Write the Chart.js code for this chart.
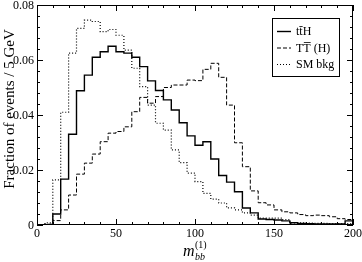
<!DOCTYPE html>
<html>
<head>
<meta charset="utf-8">
<script src="https://cdn.jsdelivr.net/npm/chart.js@4.4.0/dist/chart.umd.min.js"></script>
<style>
  html, body { margin: 0; padding: 0; background: #fff; }
  canvas { display: block; }
</style>
</head>
<body>
<canvas id="chart" width="362" height="262"></canvas>
<script>
// lower edge of each 5 GeV bin, last edge closes the histogram
const binLow = [
  0, 5, 10, 15, 20, 25, 30, 35, 40, 45,
  50, 55, 60, 65, 70, 75, 80, 85, 90, 95,
  100, 105, 110, 115, 120, 125, 130, 135, 140, 145,
  150, 155, 160, 165, 170, 175, 180, 185, 190, 195
];
const binEnd = 200;

const ttH = [
  0, 0, 0.004, 0.0167, 0.033, 0.0488, 0.0545, 0.061, 0.063, 0.065,
  0.063, 0.0625, 0.061, 0.0576, 0.0524, 0.0489, 0.0455, 0.0418, 0.0372, 0.0324,
  0.029, 0.0303, 0.024, 0.018, 0.0156, 0.0121, 0.0062, 0.0044, 0.0022, 0.002,
  0.0018, 0.0015, 0.0008, 0.0006, 0.0005, 0.0004, 0.0004, 0.0004, 0.0004, 0.0015
];

const heavyTT = [
  0, 0.0003, 0.0016, 0.0055, 0.0109, 0.0185, 0.0225, 0.0258, 0.0303, 0.0334,
  0.034, 0.0357, 0.0412, 0.0464, 0.0443, 0.0467, 0.05, 0.0509, 0.0509, 0.0527,
  0.0525, 0.0566, 0.0588, 0.0537, 0.0436, 0.0299, 0.0212, 0.0124, 0.0081, 0.0073,
  0.0055, 0.0048, 0.0044, 0.0038, 0.0034, 0.0036, 0.0034, 0.003, 0.0023, 0.002
];

const smBkg = [
  0, 0.0008, 0.0164, 0.041, 0.0625, 0.0715, 0.0745, 0.074, 0.0703, 0.0711,
  0.069, 0.0636, 0.057, 0.0503, 0.0436, 0.037, 0.0345, 0.0273, 0.0227, 0.0189,
  0.0158, 0.0115, 0.0094, 0.008, 0.0062, 0.0055, 0.0044, 0.0036, 0.0025, 0.0025,
  0.0025, 0.002, 0.0008, 0.0008, 0.0007, 0.0006, 0.0006, 0.0005, 0.0005, 0.0005
];

const xTicks = [0, 50, 100, 150, 200];
const xTickLabels = ["0", "50", "100", "150", "200"];
const yTicks = [0, 0.02, 0.04, 0.06, 0.08];
const yTickLabels = ["0", "0.02", "0.04", "0.06", "0.08"];

const SERIF = '"Liberation Serif", "Times New Roman", serif';

function toSteps(values) {
  const pts = values.map((v, i) => ({ x: binLow[i], y: v }));
  pts.push({ x: binEnd, y: values[values.length - 1] });
  return pts;
}

function line(ctx, x1, y1, x2, y2) {
  ctx.beginPath();
  ctx.moveTo(x1, y1);
  ctx.lineTo(x2, y2);
  ctx.stroke();
}

const framePlugin = {
  id: "frame",
  afterDraw(chart) {
    const { ctx, chartArea: a } = chart;
    const xs = chart.scales.x;
    const ys = chart.scales.y;
    ctx.save();
    ctx.strokeStyle = "#000";
    ctx.fillStyle = "#000";
    ctx.lineWidth = 1;
    ctx.setLineDash([]);
    ctx.strokeRect(a.left + 0.5, a.top + 0.5, a.right - a.left - 1, a.bottom - a.top - 1);

    // inward ticks on all four sides
    for (let v = 0; v <= 200; v += 10) {
      const px = Math.round(xs.getPixelForValue(v)) + 0.5;
      const len = v % 50 === 0 ? 6 : 3;
      line(ctx, px, a.bottom, px, a.bottom - len);
      line(ctx, px, a.top, px, a.top + len);
    }
    for (let i = 0; i <= 20; i++) {
      const py = Math.round(ys.getPixelForValue(i * 0.004)) + 0.5;
      const len = i % 5 === 0 ? 6 : 3;
      line(ctx, a.left, py, a.left + len, py);
      line(ctx, a.right, py, a.right - len, py);
    }

    ctx.font = "12px " + SERIF;
    ctx.textAlign = "center";
    ctx.textBaseline = "alphabetic";
    xTicks.forEach((v, i) => {
      ctx.fillText(xTickLabels[i], xs.getPixelForValue(v), 237);
    });
    ctx.textAlign = "right";
    ctx.textBaseline = "middle";
    yTicks.forEach((v, i) => {
      ctx.fillText(yTickLabels[i], a.left - 3, ys.getPixelForValue(v) + 0.5);
    });

    // y title
    ctx.save();
    ctx.translate(10, 109);
    ctx.rotate(-Math.PI / 2);
    ctx.textAlign = "center";
    ctx.font = "15px " + SERIF;
    ctx.fillText("Fraction of events / 5 GeV", 0, 0);
    ctx.restore();

    // x title m_bb^(1)
    ctx.textAlign = "left";
    ctx.textBaseline = "alphabetic";
    ctx.font = "italic 16px " + SERIF;
    ctx.fillText("m", 183, 256);
    ctx.font = "10px " + SERIF;
    ctx.fillText("(1)", 195, 248);
    ctx.font = "italic 10px " + SERIF;
    ctx.fillText("bb", 195, 260);

    drawLegend(ctx);
    ctx.restore();
  }
};

function drawLegend(ctx) {
  ctx.strokeStyle = "#000";
  ctx.lineWidth = 1;
  ctx.setLineDash([]);
  ctx.strokeRect(272.5, 18.5, 67, 58);

  const rows = [
    { y: 31, dash: [], width: 1.4 },
    { y: 47.5, dash: [4, 2], width: 1 },
    { y: 64, dash: [1, 2], width: 1.2 }
  ];
  rows.forEach((r) => {
    ctx.lineWidth = r.width;
    ctx.setLineDash(r.dash);
    line(ctx, 277, r.y + 0.5, 291, r.y + 0.5);
  });
  ctx.setLineDash([]);
  ctx.lineWidth = 0.8;

  ctx.font = "12px " + SERIF;
  ctx.textAlign = "left";
  ctx.textBaseline = "alphabetic";
  ctx.fillText("ttH", 296, 35);
  const tw = ctx.measureText("t").width;
  line(ctx, 296 + tw, 26.5, 296 + 2 * tw, 26.5);

  const Tw = ctx.measureText("T").width;
  ctx.fillText("TT (H)", 296, 51.5);
  line(ctx, 296 + Tw + 0.5, 42.5, 296 + 2 * Tw, 42.5);

  ctx.fillText("SM bkg", 296, 68);
}

const ctx = document.getElementById("chart").getContext("2d");

new Chart(ctx, {
  type: "line",
  data: {
    datasets: [
      {
        label: "ttH",
        data: toSteps(ttH),
        borderColor: "#000",
        borderWidth: 1.4,
        stepped: "before",
        pointRadius: 0,
        fill: false
      },
      {
        label: "TT (H)",
        data: toSteps(heavyTT),
        borderColor: "#000",
        borderWidth: 1,
        borderDash: [4, 2],
        stepped: "before",
        pointRadius: 0,
        fill: false
      },
      {
        label: "SM bkg",
        data: toSteps(smBkg),
        borderColor: "#000",
        borderWidth: 1.2,
        borderDash: [1, 2],
        stepped: "before",
        pointRadius: 0,
        fill: false
      }
    ]
  },
  options: {
    responsive: false,
    animation: false,
    layout: { padding: { left: 37, top: 5, right: 9, bottom: 37 } },
    scales: {
      x: { type: "linear", min: 0, max: 200, display: false },
      y: { min: 0, max: 0.08, display: false }
    },
    plugins: {
      legend: { display: false },
      tooltip: { enabled: false }
    }
  },
  plugins: [framePlugin]
});
</script>
</body>
</html>
